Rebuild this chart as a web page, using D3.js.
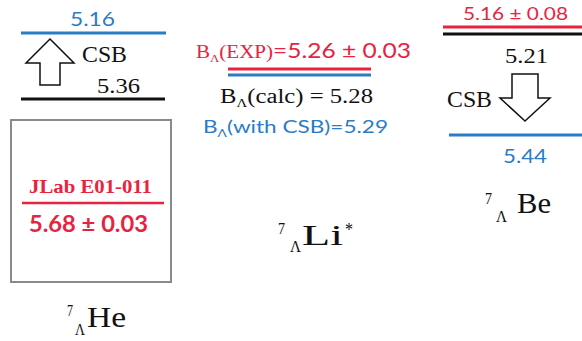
<!DOCTYPE html>
<html><head><meta charset="utf-8">
<script src="https://cdn.jsdelivr.net/npm/d3@7"></script>
<style>body{margin:0;background:#fff;overflow:hidden}</style>
</head><body>
<svg id="c" width="582" height="341"></svg>
<script>
// ---------------- DATA ----------------
const nuclei = ["He", "Li", "Be"];
const massNumber = "7";
const levelKinds = ["exp", "calc", "csb"];
const heValues = [5.68, 5.36, 5.16];   // exp, calc, with CSB
const liValues = [5.26, 5.28, 5.29];
const beValues = [5.16, 5.21, 5.44];
const expErrors = [0.03, 0.03, 0.08];
const heExpLabel = "JLab E01-011";
const csbLabel = "CSB";

// ---------------- STYLE / LAYOUT ----------------
const RED = "#e8233f", BLUE = "#2b7bc6", BLACK = "#111", GRAY = "#8a8a8a";
const SERIF = "Liberation Serif";
const SANS = "Lato";
const svg = d3.select("#c");

const yHe = d3.scaleLinear().domain([5.16, 5.36, 5.68]).range([33, 99, 203]);
const yBe = d3.scaleLinear().domain([5.16, 5.21, 5.44]).range([27, 34, 135]);
const yLi = d3.scaleLinear().domain([5.26, 5.29]).range([69, 75]);

const fmt = d3.format(".2f");
const colorOf = k => k === "exp" ? RED : k === "csb" ? BLUE : BLACK;

function fitText(g, x0, x1, y) {
  return g.attr("x", x0).attr("y", y).attr("textLength", x1 - x0)
    .attr("lengthAdjust", "spacingAndGlyphs");
}
function addText(str, font, size, color, weight) {
  return svg.append("text").text(str).attr("font-family", font).attr("font-size", size)
    .attr("fill", color).attr("font-weight", weight || "normal");
}
function hline(x0, x1, y, color, w) {
  svg.append("line").attr("x1", x0).attr("x2", x1).attr("y1", y).attr("y2", y)
    .attr("stroke", color).attr("stroke-width", w);
}
const lineGen = d3.line();
function arrow(cx, yTip, yTail, headW, shaftW, headL) {
  const dir = yTail > yTip ? 1 : -1;
  const yb = yTip + dir * headL;
  const pts = [[cx, yTip], [cx + headW / 2, yb], [cx + shaftW / 2, yb], [cx + shaftW / 2, yTail],
               [cx - shaftW / 2, yTail], [cx - shaftW / 2, yb], [cx - headW / 2, yb]];
  svg.append("path").attr("d", lineGen(pts) + "Z").attr("fill", "#fff")
    .attr("stroke", BLACK).attr("stroke-width", 1.5).attr("stroke-linejoin", "miter");
}

// ---------------- He panel ----------------
const heData = levelKinds.map((k, i) => ({ kind: k, value: heValues[i] }));
svg.append("rect").attr("x", 11).attr("y", 120).attr("width", 160).attr("height", 162)
  .attr("fill", "none").attr("stroke", GRAY).attr("stroke-width", 2);
heData.forEach(d => {
  const y = yHe(d.value);
  if (d.kind === "exp") {
    hline(22, 164, y, RED, 2.5);
    fitText(addText(heExpLabel, SERIF, 18, RED, "bold"), 29, 152, y - 10);
    fitText(addText(fmt(d.value) + " ± " + fmt(expErrors[0]), SANS, 22, RED, "bold"), 29, 148, y + 29);
  } else if (d.kind === "calc") {
    hline(21, 165, y, BLACK, 3);
    fitText(addText(fmt(d.value), SERIF, 21, BLACK), 97, 140, y - 6);
  } else {
    hline(21, 166, y, BLUE, 3);
    fitText(addText(fmt(d.value), SANS, 19, BLUE), 70, 115, y - 7);
  }
});
arrow(50, yHe(heValues[2]) + 6, yHe(heValues[1]) - 14, 48, 20, 24);
fitText(addText(csbLabel, SERIF, 23, BLACK), 82, 127, 62);

// ---------------- Li panel ----------------
const liData = levelKinds.map((k, i) => ({ kind: k, value: liValues[i] }));
liData.forEach(d => {
  if (d.kind !== "calc") hline(228, 371, yLi(d.value), colorOf(d.kind), 3);
});
{
  const t = svg.append("text").attr("fill", RED);
  t.append("tspan").text("B").attr("font-family", SERIF).attr("font-size", 18);
  t.append("tspan").text("Λ").attr("font-family", SERIF).attr("font-size", 11).attr("dy", 4);
  t.append("tspan").text("(EXP)").attr("font-family", SERIF).attr("font-size", 18).attr("dy", -4);
  t.append("tspan").text("=" + fmt(liData[0].value) + " ± " + fmt(expErrors[1]))
    .attr("font-family", SANS).attr("font-size", 21);
  fitText(t, 196, 411, 58);
}
{
  const t = svg.append("text").attr("fill", BLACK).attr("font-family", SERIF);
  t.append("tspan").text("B").attr("font-size", 20);
  t.append("tspan").text("Λ").attr("font-size", 12).attr("dy", 4);
  t.append("tspan").text("(calc) = " + fmt(liData[1].value)).attr("font-size", 20).attr("dy", -4);
  fitText(t, 220, 373, 103);
}
{
  const t = svg.append("text").attr("fill", BLUE).attr("font-family", SANS);
  t.append("tspan").text("B").attr("font-size", 18);
  t.append("tspan").text("Λ").attr("font-size", 11).attr("dy", 4);
  t.append("tspan").text("(with CSB)=" + fmt(liData[2].value)).attr("font-size", 18).attr("dy", -4);
  fitText(t, 203, 388, 133);
}

// ---------------- Be panel ----------------
const beData = levelKinds.map((k, i) => ({ kind: k, value: beValues[i] }));
beData.forEach(d => {
  const y = yBe(d.value);
  if (d.kind === "exp") {
    hline(443, 582, y, RED, 3);
    fitText(addText(fmt(d.value) + " ± " + fmt(expErrors[2]), SANS, 18, RED), 463, 568, y - 7);
  } else if (d.kind === "calc") {
    hline(443, 582, y, BLACK, 3);
    fitText(addText(fmt(d.value), SERIF, 21, BLACK), 505, 548, y + 29);
  } else {
    hline(449, 582, y, BLUE, 3);
    fitText(addText(fmt(d.value), SANS, 19, BLUE), 503, 547, y + 28);
  }
});
arrow(525, yBe(beValues[2]) - 14, yBe(beValues[1]) + 40, 50, 26, 23);
fitText(addText(csbLabel, SERIF, 23, BLACK), 447, 492, 107);

// ---------------- nucleus labels ----------------
const labelPos = [
  { sup: [67, 73, 316], sub: [75, 85, 335], main: [87, 126, 327], star: null },
  { sup: [278, 285, 234], sub: [290, 301, 252], main: [302, 343, 245], star: [345, 353, 236] },
  { sup: [485, 492, 204], sub: [496, 507, 222], main: [517, 551, 213], star: null }
];
nuclei.forEach((n, i) => {
  const p = labelPos[i];
  fitText(addText(massNumber, SERIF, 17, BLACK), p.sup[0], p.sup[1], p.sup[2]);
  fitText(addText("Λ", SERIF, 17, BLACK), p.sub[0], p.sub[1], p.sub[2]);
  fitText(addText(n, SERIF, 30, BLACK), p.main[0], p.main[1], p.main[2]);
  if (p.star) fitText(addText("*", SERIF, 18, BLACK), p.star[0], p.star[1], p.star[2]);
});
</script>
</body></html>
